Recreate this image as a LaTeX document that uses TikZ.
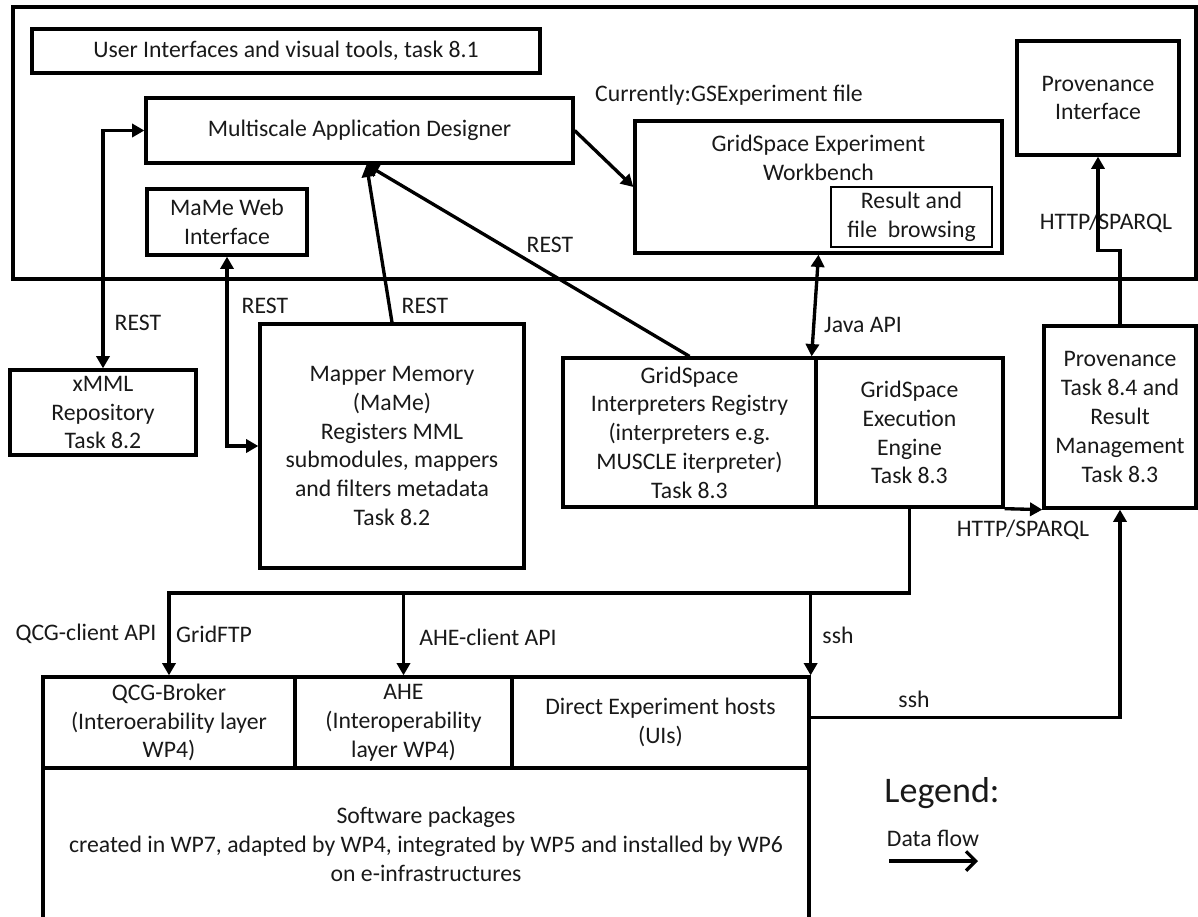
\documentclass[tikz,border=0pt]{standalone}
\usepackage{fontspec}
\setmainfont{Carlito}
\usetikzlibrary{arrows.meta,calc}

\begin{document}
\begin{tikzpicture}[x=0.02cm,y=-0.02cm,>={Triangle[length=7pt,width=7.5pt]},
  every node/.style={font=\fontsize{13.5}{16.4}\selectfont,text=black!90},
  box/.style={draw,line width=1.9pt,inner sep=0pt,align=center},
  lbl/.style={inner sep=0pt},
  flow/.style={line width=1.9pt}]
  \useasboundingbox (0,0) rectangle (1198,917);
  \node[box,line width=2.3pt,minimum width=23.66cm,minimum height=5.44cm] (frame) at (604.5,143) {};
  \node[box,minimum width=10.16cm,minimum height=0.88cm] (uitools) at (286,51) {User Interfaces and visual tools, task 8.1};
  \node[box,minimum width=8.54cm,minimum height=1.3cm] (mad) at (359.5,130.5) {Multiscale Application Designer};
  \node[box,minimum width=3.2cm,minimum height=1.32cm] (mameweb) at (227,222) {MaMe Web\\Interface};
  \node[box,minimum width=7.34cm,minimum height=2.64cm] (gsew) at (818.5,187) {};
  \node[lbl,align=center] (gsewtext) at (818.5,157.5) {GridSpace Experiment\\Workbench};
  \node[box,line width=1.4pt,minimum width=3.22cm,minimum height=1.2cm] (result) at (911.5,217) {Result and\\file\ \ browsing};
  \node[box,minimum width=3.24cm,minimum height=2.28cm] (provif) at (1098,98) {Provenance\\Interface};
  \node[box,minimum width=3.72cm,minimum height=1.7cm] (xmml) at (103,412.5) {xMML\\Repository\\Task 8.2};
  \node[box,minimum width=5.28cm,minimum height=4.88cm] (mapper) at (392,446) {Mapper Memory\\(MaMe)\\Registers MML\\submodules, mappers\\and filters metadata\\Task 8.2};
  \node[box,minimum width=5.06cm,minimum height=2.98cm] (registry) at (689.5,432.5) {GridSpace\\Interpreters Registry\\(interpreters e.g.\\MUSCLE iterpreter)\\Task 8.3};
  \node[box,minimum width=3.74cm,minimum height=2.98cm] (engine) at (909.5,432.5) {GridSpace\\Execution\\Engine\\Task 8.3};
  \node[box,minimum width=3.04cm,minimum height=3.64cm] (prov) at (1120,417) {Provenance\\Task 8.4 and\\Result\\Management\\Task 8.3};
  \node[box,minimum width=5.04cm,minimum height=1.82cm] (qcg) at (169,722.5) {QCG-Broker\\(Interoerability layer\\WP4)};
  \node[box,minimum width=4.34cm,minimum height=1.82cm] (ahe) at (403.5,722.5) {AHE\\(Interoperability\\layer WP4)};
  \node[box,minimum width=5.94cm,minimum height=1.82cm] (direct) at (660.5,722.5) {Direct Experiment hosts\\(UIs)};
  \node[box,minimum width=15.32cm,minimum height=3.06cm] (software) at (426,844.5) {Software packages\\created in WP7, adapted by WP4, integrated by WP5 and installed by WP6\\on e-infrastructures};

  \node[lbl] at (729,95) {Currently:GSExperiment file};
  \node[lbl] at (138,323) {REST};
  \node[lbl] at (265,306) {REST};
  \node[lbl] at (425,306) {REST};
  \node[lbl] at (550,245) {REST};
  \node[lbl] at (863,325) {Java API};
  \node[lbl] at (1106,223) {HTTP/SPARQL};
  \node[lbl] at (1023,530) {HTTP/SPARQL};
  \node[lbl] at (86,634) {QCG-client API};
  \node[lbl] at (214,634) {GridFTP};
  \node[lbl] at (488,637) {AHE-client API};
  \node[lbl] at (838,635) {ssh};
  \node[lbl] at (914,699) {ssh};

  \draw[flow,<->] (xmml.north) |- (mad.west);
  \draw[flow,<->] (mameweb.south) |- (mapper.west);
  \coordinate (madtip) at ([xshift=0.14cm]mad.south);
  \draw[flow,->] (mapper.north) -- (madtip);
  \draw[flow,->] (registry.north) -- (madtip);
  \draw[flow,->] (mad.east) -- (gsew.west);
  \draw[flow,<->] (gsew.south) -- ([xshift=-0.12cm]registry.north east);
  \draw[flow,->] (engine.south east) -- (prov.south west);
  \draw[flow,->] (prov.north) -- ++(0,-74) -| (provif.south);
  \coordinate (bus) at (0,593);
  \draw[flow,->] (engine.south) |- (qcg.north |- bus) -- (qcg.north);
  \draw[flow,->] (ahe.north |- bus) -- (ahe.north);
  \draw[flow,->] (direct.north east |- bus) -- (direct.north east);
  \draw[flow,->] ([yshift=0.1cm]direct.east) -| (prov.south);

  \node[lbl,font=\fontsize{20.5}{24}\selectfont] (legend) at (942,793) {Legend:};
  \node[lbl] (dataflow) at (933,838) {Data flow};
  \coordinate (lgstart) at (889,861);
  \coordinate (lgend) at (978,861);
  \draw[flow,-{Straight Barb[length=5.5pt,width=11pt]}] (lgstart) -- (lgend);
\end{tikzpicture}
\end{document}
